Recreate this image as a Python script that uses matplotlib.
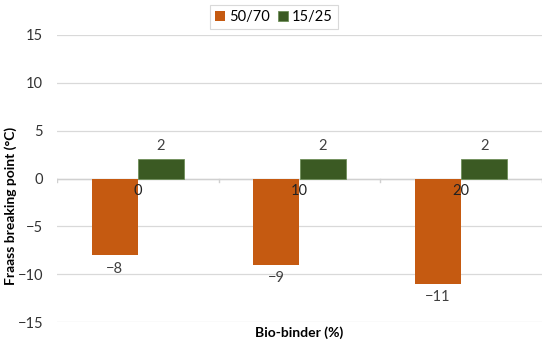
import matplotlib.pyplot as plt
import numpy as np

categories = ['0', '10', '20']
series_names = ['50/70', '15/25']
vals_5070 = [-8, -9, -11]
vals_1525 = [2, 2, 2]
yticks = [-15, -10, -5, 0, 5, 10, 15]

plt.rcParams['font.family'] = ['Lato', 'DejaVu Sans']

fig = plt.figure(figsize=(5.5, 3.46), dpi=100)
ax = fig.add_axes([57/550, 1-322/346, 485/550, 287/346])

x = np.arange(len(categories))
w = 0.285
b1 = ax.bar(x - w/2, vals_5070, w, color='#C55A11', label=series_names[0], zorder=3)
b2 = ax.bar(x + w/2, vals_1525, w, color='#3B5A23', edgecolor='#6f8f5a', linewidth=0.6,
            label=series_names[1], zorder=3)

for xi, v in zip(x - w/2, vals_5070):
    ax.text(xi, v - 0.7, '\u2212%d' % abs(v), ha='center', va='top', fontsize=10.5, color='#404040')
for xi, v in zip(x + w/2, vals_1525):
    ax.text(xi, v + 0.7, '%d' % v, ha='center', va='bottom', fontsize=10.5, color='#404040')
for xi, c in zip(x, categories):
    ax.text(xi, -0.6, c, ha='center', va='top', fontsize=10.5, color='#222222')

ax.set_xlim(-0.5, len(categories) - 0.5)
ax.set_ylim(-15, 15)
ax.set_yticks(yticks)
ax.set_yticklabels([('\u2212%d' % -t) if t < 0 else str(t) for t in yticks], fontsize=10.5, color='#333333')
ax.tick_params(axis='y', length=0, pad=10)
ax.set_xticks([])
ax.grid(axis='y', color='#d9d9d9', linewidth=0.9, zorder=0)
for s in ax.spines.values():
    s.set_visible(False)
ax.axhline(0, color='#d0d0d0', linewidth=1.0, zorder=2)
for bx in np.arange(-0.5, len(categories), 1.0):
    ax.plot([bx, bx], [0, -0.35], color='#d0d0d0', linewidth=1.0, zorder=2)

fig.text(11/550, 1-206/346, 'Fraass breaking point (\u00b0C)', rotation=90, ha='center', va='center',
         fontsize=10, fontweight='bold')
fig.text(299/550, 1-333/346, 'Bio-binder (%)', ha='center', va='center', fontsize=10, fontweight='bold')

leg = fig.legend(loc='center', bbox_to_anchor=(274/550, 1-17/346), ncol=2, fontsize=10.5,
                 frameon=True, fancybox=False, edgecolor='#d0d0d0', handlelength=0.7,
                 handleheight=0.7, handletextpad=0.3, columnspacing=0.5, borderpad=0.35)
leg.get_frame().set_linewidth(0.8)

fig.savefig('out.png', dpi=100)
